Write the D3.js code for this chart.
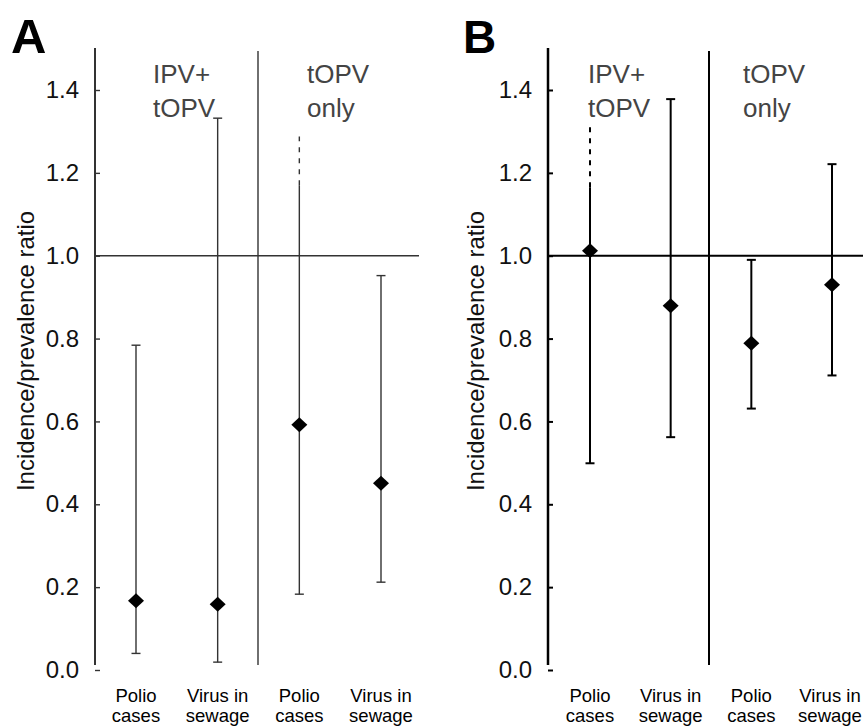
<!DOCTYPE html>
<html><head><meta charset="utf-8">
<script src="https://cdn.jsdelivr.net/npm/d3@7"></script>
<style>body{margin:0;background:#fff}svg{display:block}</style>
</head><body>
<svg id="c" width="863" height="726"></svg>
<script>
const categories = ["Polio cases", "Virus in sewage", "Polio cases", "Virus in sewage"];
const groups = [["IPV+", "tOPV"], ["tOPV", "only"]];
const yTicks = [0.0, 0.2, 0.4, 0.6, 0.8, 1.0, 1.2, 1.4];
// Panel A
const aEst = [0.167, 0.159, 0.592, 0.451];
const aLow = [0.040, 0.019, 0.183, 0.212];
const aHigh = [0.784, 1.332, 1.170, 0.952];
const aHighExt = [null, null, 1.288, null]; // dashed extension, no cap
// Panel B
const bEst = [1.012, 0.879, 0.789, 0.930];
const bLow = [0.499, 0.562, 0.631, 0.711];
const bHigh = [1.165, 1.378, 0.990, 1.221];
const bHighExt = [1.311, null, null, null];

const svg = d3.select("#c");
const font = "Liberation Sans, Arial, sans-serif";

function panel(opt) {
  const y = d3.scaleLinear().domain([0, 1.4]).range([670, 90]);
  const x = d3.scalePoint().domain([0, 1, 2, 3]).range(opt.xr);
  const g = svg.append("g");
  const col = opt.col, sw = opt.sw;
  // letter
  g.append("text").attr("x", opt.letterX).attr("y", 53).text(opt.letter)
    .attr("font-family", font).attr("font-weight", "bold")
    .attr("font-size", opt.letterSize).attr("fill", "#000");
  // axis
  const ax = d3.axisLeft(y).tickValues(yTicks).tickFormat(d3.format(".1f")).tickSizeInner(-5).tickSizeOuter(0).tickPadding(16);
  const axg = g.append("g").attr("transform", `translate(${opt.axisX},0)`).call(ax);
  axg.select(".domain").remove();
  axg.selectAll(".tick line").attr("stroke", col).attr("stroke-width", sw);
  axg.selectAll(".tick text").attr("font-family", font).attr("font-size", 24).attr("fill", "#111");
  g.append("line").attr("x1", opt.axisX).attr("x2", opt.axisX).attr("y1", 48).attr("y2", 665)
    .attr("stroke", col).attr("stroke-width", opt.axisW);
  // divider
  g.append("line").attr("x1", opt.divX).attr("x2", opt.divX).attr("y1", 51).attr("y2", 665)
    .attr("stroke", col).attr("stroke-width", sw);
  // reference line at 1
  g.append("line").attr("x1", opt.axisX).attr("x2", opt.refEnd).attr("y1", y(1)).attr("y2", y(1))
    .attr("stroke", col).attr("stroke-width", sw);
  // y label
  g.append("text").attr("transform", `translate(${opt.ylabX},${y(0.77)}) rotate(-90)`)
    .attr("text-anchor", "middle").attr("font-family", font).attr("font-size", 24).attr("fill", "#111")
    .text("Incidence/prevalence ratio");
  // group labels
  groups.forEach((lines, i) => {
    const t = g.append("text").attr("font-family", font).attr("font-size", 26).attr("fill", "#444");
    lines.forEach((l, j) => t.append("tspan").attr("x", opt.groupX[i]).attr("y", 83 + j * 34).text(l));
  });
  // category labels
  categories.forEach((c, i) => {
    const parts = c === "Polio cases" ? ["Polio", "cases"] : ["Virus in", "sewage"];
    const t = g.append("text").attr("text-anchor", "middle").attr("font-family", font).attr("font-size", 18.5).attr("fill", "#000");
    parts.forEach((p, j) => t.append("tspan").attr("x", Math.min(x(i), opt.maxLabelX)).attr("y", 702 + j * 20).text(p));
  });
  // error bars
  const hw = 4.5;
  opt.est.forEach((v, i) => {
    const cx = x(i);
    g.append("line").attr("x1", cx).attr("x2", cx).attr("y1", y(opt.low[i])).attr("y2", y(opt.high[i]))
      .attr("stroke", col).attr("stroke-width", sw);
    g.append("line").attr("x1", cx - hw).attr("x2", cx + hw).attr("y1", y(opt.low[i])).attr("y2", y(opt.low[i]))
      .attr("stroke", col).attr("stroke-width", sw);
    if (opt.ext[i] == null) {
      g.append("line").attr("x1", cx - hw).attr("x2", cx + hw).attr("y1", y(opt.high[i])).attr("y2", y(opt.high[i]))
        .attr("stroke", col).attr("stroke-width", sw);
    } else {
      g.append("line").attr("x1", cx).attr("x2", cx).attr("y1", y(opt.high[i])).attr("y2", y(opt.ext[i]))
        .attr("stroke", col).attr("stroke-width", sw).attr("stroke-dasharray", "5,6");
    }
    g.append("path").attr("transform", `translate(${cx},${y(v)})`)
      .attr("d", "M0,-7.5L8,0L0,7.5L-8,0Z").attr("fill", "#000");
  });
}

panel({letter: "A", letterX: 11, letterSize: 49, axisX: 95, axisW: 2, divX: 258, refEnd: 419, xr: [136, 381],
  col: "#333", sw: 1.4, ylabX: 34, groupX: [153, 307], maxLabelX: 999,
  est: aEst, low: aLow, high: aHigh, ext: aHighExt});
panel({letter: "B", letterX: 463, letterSize: 46, axisX: 548, axisW: 2.5, divX: 709, refEnd: 863, xr: [590, 832],
  col: "#000", sw: 2, ylabX: 484, groupX: [588, 743], maxLabelX: 830,
  est: bEst, low: bLow, high: bHigh, ext: bHighExt});
</script>
</body></html>
